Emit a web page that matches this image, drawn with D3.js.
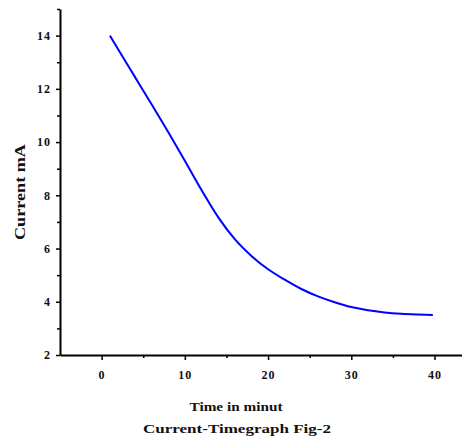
<!DOCTYPE html>
<html>
<head>
<meta charset="utf-8">
<script src="https://cdn.jsdelivr.net/npm/d3@7"></script>
<style>
  body { margin: 0; background: #fff; }
  svg text { font-family: "Liberation Serif", "DejaVu Serif", serif; font-weight: bold; fill: #111; }
</style>
</head>
<body>
<div id="renderDiv"></div>
<script>
// readings (time in minutes, current in mA)
const timeMin = [1, 2, 4, 6, 8, 10, 12, 14, 16, 18, 20, 22, 24, 26, 28, 30, 32, 34, 36, 38, 39.8];
const currentMA = [14.0, 13.48, 12.45, 11.42, 10.38, 9.3, 8.2, 7.18, 6.35, 5.72, 5.22, 4.83, 4.48, 4.2, 3.98, 3.8, 3.68, 3.6, 3.55, 3.52, 3.5];
const xTicks = [0, 10, 20, 30, 40];
const xMinor = [5, 15, 25, 35];
const yTicks = [2, 4, 6, 8, 10, 12, 14];
const yMinor = [3, 5, 7, 9, 11, 13, 15];

const W = 462, H = 437;
const svg = d3.select("#renderDiv").append("svg").attr("width", W).attr("height", H);

const x = d3.scaleLinear().domain([-5, 43.3]).range([60, 462]);
const y = d3.scaleLinear().domain([2, 15]).range([355, 9]);

// minor ticks first, under the main axis
svg.append("g").attr("transform", "translate(0,355)")
    .call(d3.axisBottom(x).tickValues(xMinor).tickSize(3).tickFormat(""))
    .call(g => g.select(".domain").remove());
svg.append("g").attr("transform", "translate(60,0)")
    .call(d3.axisLeft(y).tickValues(yMinor).tickSize(3).tickFormat(""))
    .call(g => g.select(".domain").remove());

svg.append("g").attr("transform", "translate(0,355)")
    .call(d3.axisBottom(x).tickValues(xTicks).tickSize(5).tickSizeOuter(0).tickPadding(10));
svg.append("g").attr("transform", "translate(60,0)")
    .call(d3.axisLeft(y).tickValues(yTicks).tickSize(4).tickSizeOuter(0).tickPadding(5));

svg.selectAll(".domain").attr("stroke", "#000").attr("stroke-width", 2);
svg.selectAll(".tick line").attr("stroke", "#000").attr("stroke-width", 1.5);
svg.selectAll(".tick text").style("font-size", "12px").style("letter-spacing", "1px").attr("fill", "#111");

// the curve
const line = d3.line()
    .x((d, i) => x(timeMin[i]))
    .y(d => y(d))
    .curve(d3.curveMonotoneX);
svg.append("path")
    .datum(currentMA)
    .attr("d", line)
    .attr("fill", "none")
    .attr("stroke", "#0000ff")
    .attr("stroke-width", 2);

// labels
svg.append("text")
    .attr("transform", "translate(25,192) rotate(-90)")
    .attr("text-anchor", "middle")
    .style("font-size", "14px")
    .attr("textLength", 96).attr("lengthAdjust", "spacingAndGlyphs")
    .text("Current mA");
svg.append("text")
    .attr("x", 236).attr("y", 411)
    .attr("text-anchor", "middle")
    .style("font-size", "13px")
    .attr("textLength", 93).attr("lengthAdjust", "spacingAndGlyphs")
    .text("Time in minut");
svg.append("text")
    .attr("x", 237).attr("y", 433)
    .attr("text-anchor", "middle")
    .style("font-size", "13px")
    .attr("textLength", 188).attr("lengthAdjust", "spacingAndGlyphs")
    .text("Current-Timegraph Fig-2");
</script>
</body>
</html>
